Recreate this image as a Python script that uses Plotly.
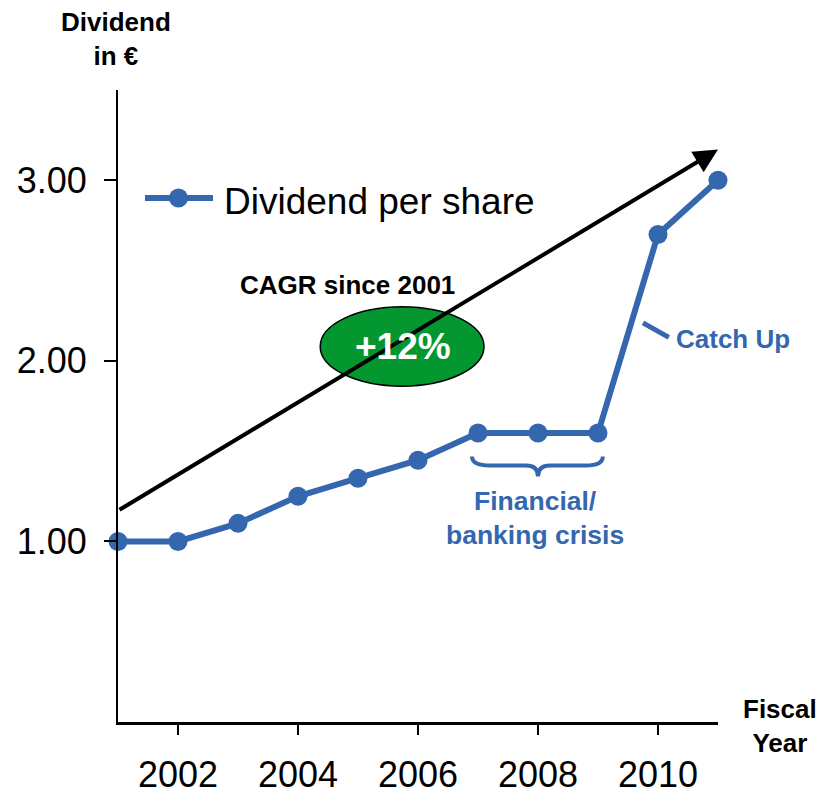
import plotly.graph_objects as go

# the page adds an 8px body margin on every side; keep the figure small enough
# that no scrollbar appears
OFF = 8
WIDTH = 825 - 2 * OFF
HEIGHT = 797 - 2 * OFF

BLUE = '#3467AE'
GREEN = '#04962F'
FONT = "Arial, 'Liberation Sans', sans-serif"

# Data
years = [2001, 2002, 2003, 2004, 2005, 2006, 2007, 2008, 2009, 2010, 2011]
dividend = [1.00, 1.00, 1.10, 1.25, 1.35, 1.45, 1.60, 1.60, 1.60, 2.70, 3.00]
year_ticks = [2002, 2004, 2006, 2008, 2010]
dividend_ticks = [1.0, 2.0, 3.0]
dividend_tick_labels = ['1.00', '2.00', '3.00']

# CAGR trend arrow (start / end)
cagr_start = (2001, 1.17)
cagr_end = (2011, 3.17)

# plot area (figure pixels)
L, T = 118 - OFF, 90 - OFF
PW, PH = 600, 632
R = WIDTH - L - PW
B = HEIGHT - T - PH


# screen pixel -> paper coords
def px_x(px):
    return (px - OFF - L) / PW


def px_y(py):
    return 1 - (py - OFF - T) / PH


fig = go.Figure()

fig.add_trace(go.Scatter(
    x=years, y=dividend, mode='lines+markers', name='Dividend per share',
    line=dict(color=BLUE, width=6), marker=dict(color=BLUE, size=19),
    showlegend=False, cliponaxis=False
))

shapes = []
annotations = []

# CAGR arrow
annotations.append(dict(
    x=cagr_end[0], y=cagr_end[1], ax=cagr_start[0], ay=cagr_start[1],
    xref='x', yref='y', axref='x', ayref='y', text='', showarrow=True,
    arrowhead=2, arrowsize=1.2, arrowwidth=4, arrowcolor='black', standoff=0
))

# green ellipse with +12%
shapes.append(dict(type='circle', xref='x', yref='y', x0=2004.37, x1=2007.1, y0=1.86, y1=2.30,
                   fillcolor=GREEN, line=dict(color='black', width=1.5), layer='above'))
annotations.append(dict(x=2005.75, y=2.08, xref='x', yref='y', text='<b>+12%</b>', showarrow=False,
                        font=dict(size=37, color='white', family=FONT)))
annotations.append(dict(x=2004.83, y=2.42, xref='x', yref='y', text='<b>CAGR since 2001</b>', showarrow=False,
                        font=dict(size=26, color='black', family=FONT)))

# brace under the crisis years
brace = ("M 2006.9,1.47 Q 2006.9,1.42 2007.2,1.42 L 2007.8,1.42 Q 2008,1.42 2008,1.36 "
         "Q 2008,1.42 2008.2,1.42 L 2008.8,1.42 Q 2009.08,1.42 2009.08,1.47")
shapes.append(dict(type='path', xref='x', yref='y', path=brace, line=dict(color=BLUE, width=4)))
annotations.append(dict(x=2007.95, y=1.13, xref='x', yref='y', text='<b>Financial/<br>banking crisis</b>',
                        showarrow=False, font=dict(size=26.5, color=BLUE, family=FONT)))

# Catch Up label with leader line
shapes.append(dict(type='line', xref='x', yref='y', x0=2009.75, y0=2.21, x1=2010.18, y1=2.13,
                   line=dict(color=BLUE, width=5)))
annotations.append(dict(x=2010.27, y=2.12, xref='x', yref='y', text='<b>Catch Up</b>', xanchor='left',
                        showarrow=False, font=dict(size=26, color=BLUE, family=FONT)))

# manual legend
shapes.append(dict(type='line', xref='paper', yref='paper', x0=px_x(145), x1=px_x(213), y0=px_y(198), y1=px_y(198),
                   line=dict(color=BLUE, width=6)))
shapes.append(dict(type='circle', xref='paper', yref='paper', x0=px_x(169), x1=px_x(188), y0=px_y(188.5), y1=px_y(207.5),
                   fillcolor=BLUE, line=dict(color=BLUE, width=0)))
annotations.append(dict(x=px_x(222), y=px_y(201), xref='paper', yref='paper', text='Dividend per share',
                        xanchor='left', yanchor='middle', showarrow=False,
                        font=dict(size=37, color='black', family=FONT)))

# axis titles
annotations.append(dict(x=px_x(116), y=px_y(39), xref='paper', yref='paper', text='<b>Dividend<br>in €</b>',
                        xanchor='center', yanchor='middle', showarrow=False,
                        font=dict(size=26, color='black', family=FONT)))
annotations.append(dict(x=px_x(780), y=px_y(726), xref='paper', yref='paper', text='<b>Fiscal<br>Year</b>',
                        xanchor='center', yanchor='middle', showarrow=False,
                        font=dict(size=26, color='black', family=FONT)))

fig.update_layout(
    width=WIDTH, height=HEIGHT,
    margin=dict(l=L, r=R, t=T, b=B, autoexpand=False),
    plot_bgcolor='white', paper_bgcolor='white',
    font=dict(family=FONT, size=36, color='black'),
    shapes=shapes, annotations=annotations,
    showlegend=False
)

fig.update_xaxes(range=[2001, 2011], tickvals=year_ticks, ticks='outside', ticklen=10, tickwidth=2,
                 tickcolor='black', showline=True, linecolor='black', linewidth=2.5,
                 showgrid=False, zeroline=False, ticklabelstandoff=9)
fig.update_yaxes(range=[0, 3.5], tickvals=dividend_ticks, ticktext=dividend_tick_labels, ticks='outside',
                 ticklen=12, tickwidth=2, tickcolor='black', showline=True, linecolor='black', linewidth=2,
                 showgrid=False, zeroline=False, ticklabelstandoff=10)

fig.write_html("out.html")
